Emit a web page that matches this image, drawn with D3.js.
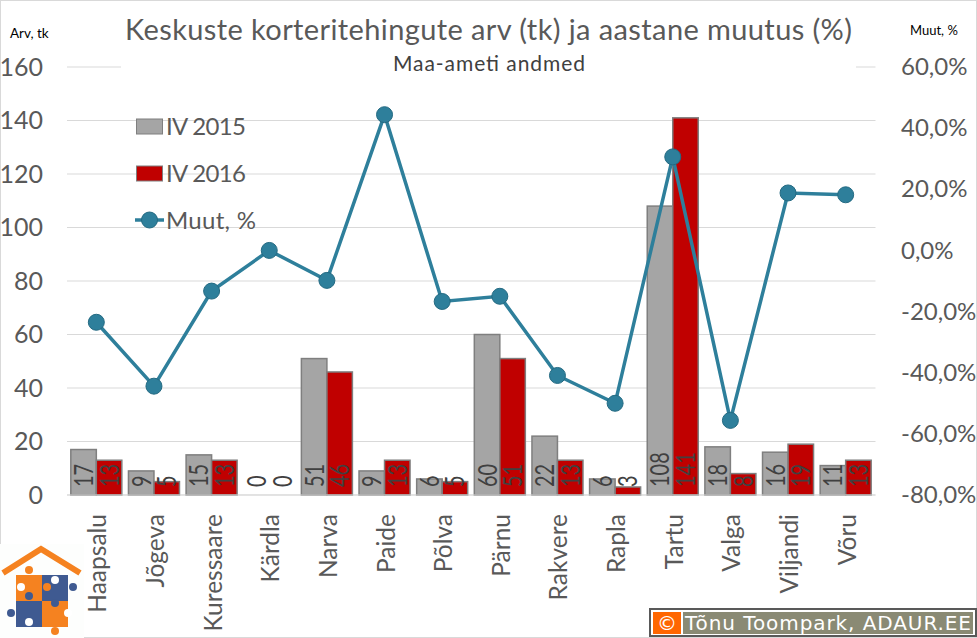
<!DOCTYPE html>
<html>
<head>
<meta charset="utf-8">
<script src="https://cdn.jsdelivr.net/npm/d3@7"></script>
<style>
  body { margin: 0; background: #fff; }
  text { font-family: Lato, "Open Sans", sans-serif; fill: #595959; }
</style>
</head>
<body>
<div class="svg-content"></div>
<script>
const categories = ["Haapsalu", "Jõgeva", "Kuressaare", "Kärdla", "Narva", "Paide", "Põlva", "Pärnu", "Rakvere", "Rapla", "Tartu", "Valga", "Viljandi", "Võru"];
const values2015 = [17, 9, 15, 0, 51, 9, 6, 60, 22, 6, 108, 18, 16, 11];
const values2016 = [13, 5, 13, 0, 46, 13, 5, 51, 13, 3, 141, 8, 19, 13];
const change = [-23.5, -44.4, -13.3, 0, -9.8, 44.4, -16.7, -15, -40.9, -50, 30.6, -55.6, 18.8, 18.2];
const leftTicks = [0, 20, 40, 60, 80, 100, 120, 140, 160];
const rightTicks = [-80, -60, -40, -20, 0, 20, 40, 60];

const svgWidth = 977;
const svgHeight = 638;

const svg = d3.select(".svg-content")
              .append("svg")
              .attr("width", svgWidth)
              .attr("height", svgHeight)
              .style("display", "block");

const xScale = d3.scaleBand().domain(categories).range([67.5, 874.5]).paddingInner(0.115).paddingOuter(0.0575);
const xCenter = d => xScale(d) + xScale.bandwidth() / 2;
const barScale = d3.scaleBand().domain(["a", "b"]).range([0, xScale.bandwidth()]);
const yScale = d3.scaleLinear().domain([0, 160]).range([495, 67]);
const y2Scale = d3.scaleLinear().domain([-80, 60]).range([495, 67]);

// outer frame
svg.append("rect").attr("x", 0.5).attr("y", 0.5).attr("width", 976).attr("height", 637)
   .attr("fill", "none").attr("stroke", "#d9d9d9");

// gridlines
svg.append("g").selectAll("line").data(leftTicks).enter().append("line")
   .attr("x1", 67).attr("x2", 875.5)
   .attr("y1", d => yScale(d)).attr("y2", d => yScale(d))
   .attr("stroke", "#d9d9d9").attr("stroke-width", 1);

// subtitle sits on a white box which hides the top gridline
svg.append("rect").attr("x", 121).attr("y", 50).attr("width", 735).attr("height", 30).attr("fill", "#fff");

// axes
const yAxis = d3.axisLeft(yScale).tickValues(leftTicks).tickSize(0);
svg.append("g").attr("transform", "translate(55,0)").call(yAxis)
   .call(g => g.select(".domain").remove())
   .selectAll("text").style("font-size", "25px").attr("dy", "0.32em").attr("x", -12);

const y2Axis = d3.axisRight(y2Scale).tickValues(rightTicks).tickSize(0)
   .tickFormat(d => d.toFixed(1).replace(".", ",") + "%");
svg.append("g").attr("transform", "translate(901,0)").call(y2Axis)
   .call(g => g.select(".domain").remove())
   .selectAll("text").style("font-size", "24px").style("text-anchor", "start").attr("x", 0).attr("dy", "0.32em");

// bars
const bars = svg.append("g");
const drawBars = (values, key, fill) => {
  bars.selectAll("rect." + key).data(values).enter().append("rect")
      .attr("class", key)
      .attr("x", (d, i) => xScale(categories[i]) + barScale(key))
      .attr("width", barScale.bandwidth())
      .attr("y", d => yScale(d))
      .attr("height", d => yScale(0) - yScale(d))
      .attr("fill", fill)
      .attr("stroke", d => d === 0 ? "none" : "#7f7f7f")
      .attr("stroke-width", 1.5);
  bars.selectAll("text." + key).data(values).enter().append("text")
      .attr("class", key)
      .attr("transform", (d, i) => "translate(" + (xScale(categories[i]) + barScale(key) + barScale.bandwidth() / 2 + 9.5) + ",487) rotate(-90) scale(0.74,1)")
      .style("font-size", "27px")
      .style("fill", "#404040")
      .text(d => d);
};
drawBars(values2015, "a", "#a5a5a5");
drawBars(values2016, "b", "#c00000");

// baseline
svg.append("line").attr("x1", 67).attr("x2", 875.5)
   .attr("y1", yScale(0)).attr("y2", yScale(0)).attr("stroke", "#d9d9d9");

// change line
const line = d3.line().x((d, i) => xCenter(categories[i])).y(d => y2Scale(d));
svg.append("path").datum(change).attr("d", line)
   .attr("fill", "none").attr("stroke", "#2e7f9b").attr("stroke-width", 3.5);
svg.append("g").selectAll("circle").data(change).enter().append("circle")
   .attr("cx", (d, i) => xCenter(categories[i]))
   .attr("cy", d => y2Scale(d))
   .attr("r", 8)
   .attr("fill", "#2e7f9b").attr("stroke", "#246a82");

// category labels
svg.append("g").selectAll("text").data(categories).enter().append("text")
   .attr("transform", d => "translate(" + (xCenter(d) + 10) + ",514) rotate(-90)")
   .style("font-size", "24.5px").style("text-anchor", "end")
   .text(d => d);

// titles
svg.append("text").attr("x", 125).attr("y", 40)
   .style("font-size", "29px").attr("textLength", 727).text("Keskuste korteritehingute arv (tk) ja aastane muutus (%)");
svg.append("text").attr("x", 393).attr("y", 71)
   .style("font-size", "21px").style("fill", "#404040").attr("textLength", 192).text("Maa-ameti andmed");
svg.append("text").attr("x", 10).attr("y", 38).style("font-size", "13.5px").style("fill", "#000").text("Arv, tk");
svg.append("text").attr("x", 910).attr("y", 35).style("font-size", "13px").style("fill", "#000").text("Muut, %");

// legend
const legend = svg.append("g");
[["IV 2015", "#a5a5a5"], ["IV 2016", "#c00000"]].forEach((d, i) => {
  const ly = 126.5 + i * 47;
  legend.append("rect").attr("x", 136.5).attr("y", ly - 7.5).attr("width", 26).attr("height", 15)
        .attr("fill", d[1]).attr("stroke", "#7f7f7f");
  legend.append("text").attr("x", 166).attr("y", ly + 8).style("font-size", "24px").attr("textLength", 80).text(d[0]);
});
legend.append("line").attr("x1", 135).attr("x2", 164).attr("y1", 220).attr("y2", 220)
      .attr("stroke", "#2e7f9b").attr("stroke-width", 3.5);
legend.append("circle").attr("cx", 149.5).attr("cy", 220).attr("r", 8)
      .attr("fill", "#2e7f9b").attr("stroke", "#246a82");
legend.append("text").attr("x", 166).attr("y", 229).style("font-size", "24px").attr("textLength", 90).text("Muut, %");

// logo
const logo = svg.append("g");
logo.append("rect").attr("x", 0).attr("y", 544).attr("width", 84).attr("height", 94).attr("fill", "#fdfefd");
logo.append("path").attr("d", "M3 573L41 549L80 573").attr("fill", "none").attr("stroke", "#f58220").attr("stroke-width", 6);
[[16, 575, "#f58220"], [42, 575, "#3f5a91"], [16, 601, "#3f5a91"], [42, 601, "#f58220"]].forEach(d => {
  logo.append("rect").attr("x", d[0]).attr("y", d[1]).attr("width", 26).attr("height", 26).attr("fill", d[2]);
});
[[29, 570, "#f58220"], [73, 587, "#3f5a91"], [29, 596, "#3f5a91"], [11, 613, "#3f5a91"], [55, 631, "#f58220"], [55, 603, "#3f5a91"], [47, 587, "#f58220"], [55, 580, "#fff"], [21, 587, "#fff"], [29, 622, "#fff"], [68, 613, "#fff"]].forEach(d => {
  logo.append("circle").attr("cx", d[0]).attr("cy", d[1]).attr("r", 4).attr("fill", d[2]);
});

// copyright badge
const badge = svg.append("g");
badge.append("rect").attr("x", 650).attr("y", 609).attr("width", 326).attr("height", 27).attr("fill", "#fff").attr("stroke", "#595959").attr("stroke-width", 2);
badge.append("rect").attr("x", 653).attr("y", 612).attr("width", 28).attr("height", 22).attr("fill", "#ff6600");
badge.append("rect").attr("x", 683).attr("y", 612).attr("width", 290).attr("height", 22).attr("fill", "#8a8a74");
badge.append("text").attr("x", 667).attr("y", 630).style("text-anchor", "middle").style("font-family", "'DejaVu Sans'").style("font-size", "20px").style("fill", "#fff").text("©");
badge.append("text").attr("x", 685).attr("y", 630).style("font-family", "'DejaVu Sans'").style("font-size", "20px").style("fill", "#fff").attr("textLength", 286).text("Tõnu Toompark, ADAUR.EE");
</script>
</body>
</html>
